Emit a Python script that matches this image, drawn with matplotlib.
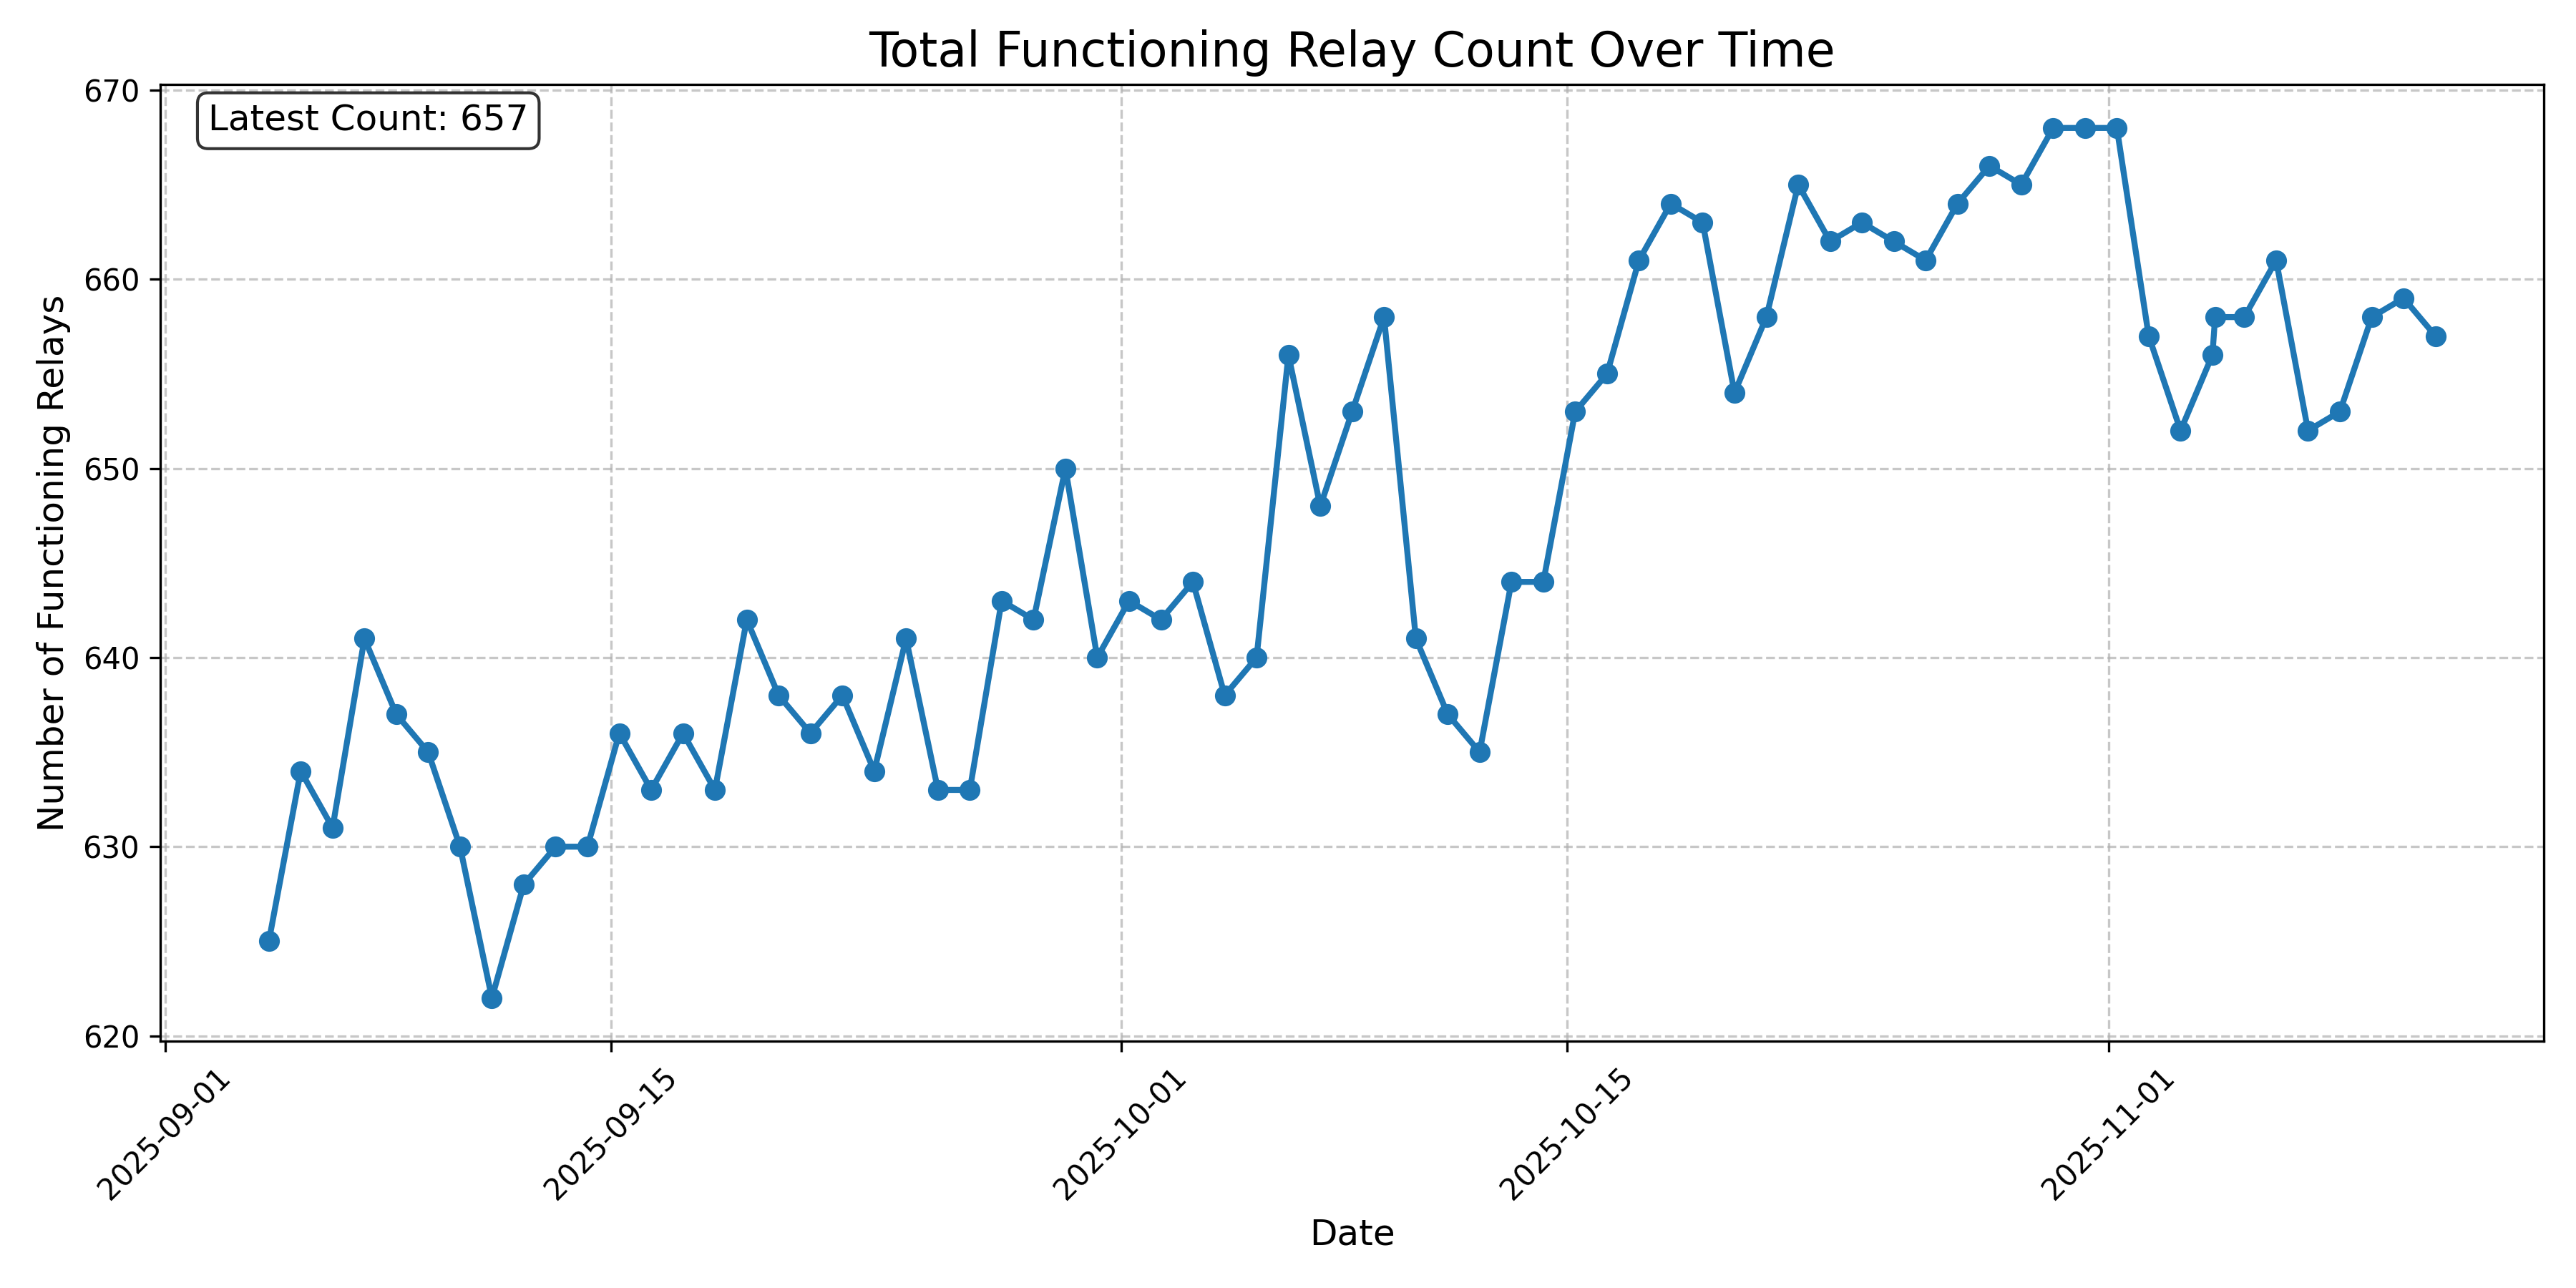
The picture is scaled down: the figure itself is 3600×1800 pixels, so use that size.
import pandas as pd
import matplotlib
matplotlib.use("Agg")
import matplotlib.pyplot as plt

# snapshot times (one per day around 06:00, plus an extra run on 11-04)
dates = [
    "2025-09-04 06:00", "2025-09-05 06:00", "2025-09-06 06:00", "2025-09-07 06:00",
    "2025-09-08 06:00", "2025-09-09 06:00", "2025-09-10 06:00", "2025-09-11 06:00",
    "2025-09-12 06:00", "2025-09-13 06:00", "2025-09-14 06:00", "2025-09-15 06:00",
    "2025-09-16 06:00", "2025-09-17 06:00", "2025-09-18 06:00", "2025-09-19 06:00",
    "2025-09-20 06:00", "2025-09-21 06:00", "2025-09-22 06:00", "2025-09-23 06:00",
    "2025-09-24 06:00", "2025-09-25 06:00", "2025-09-26 06:00", "2025-09-27 06:00",
    "2025-09-28 06:00", "2025-09-29 06:00", "2025-09-30 06:00", "2025-10-01 06:00",
    "2025-10-02 06:00", "2025-10-03 06:00", "2025-10-04 06:00", "2025-10-05 06:00",
    "2025-10-06 06:00", "2025-10-07 06:00", "2025-10-08 06:00", "2025-10-09 06:00",
    "2025-10-10 06:00", "2025-10-11 06:00", "2025-10-12 06:00", "2025-10-13 06:00",
    "2025-10-14 06:00", "2025-10-15 06:00", "2025-10-16 06:00", "2025-10-17 06:00",
    "2025-10-18 06:00", "2025-10-19 06:00", "2025-10-20 06:00", "2025-10-21 06:00",
    "2025-10-22 06:00", "2025-10-23 06:00", "2025-10-24 06:00", "2025-10-25 06:00",
    "2025-10-26 06:00", "2025-10-27 06:00", "2025-10-28 06:00", "2025-10-29 06:00",
    "2025-10-30 06:00", "2025-10-31 06:00", "2025-11-01 06:00", "2025-11-02 06:00",
    "2025-11-03 06:00", "2025-11-04 06:00", "2025-11-04 08:00", "2025-11-05 06:00",
    "2025-11-06 06:00", "2025-11-07 06:00", "2025-11-08 06:00", "2025-11-09 06:00",
    "2025-11-10 06:00", "2025-11-11 06:00",
]

counts = [
    625, 634, 631, 641, 637, 635, 630, 622, 628, 630, 630, 636,
    633, 636, 633, 642, 638, 636, 638, 634, 641, 633, 633, 643,
    642, 650, 640, 643, 642, 644, 638, 640, 656, 648, 653, 658,
    641, 637, 635, 644, 644, 653, 655, 661, 664, 663, 654, 658,
    665, 662, 663, 662, 661, 664, 666, 665, 668, 668, 668, 657,
    652, 656, 658, 658, 661, 652, 653, 658, 659, 657,
]

df = pd.DataFrame({"date": pd.to_datetime(dates), "count": counts})

plt.figure(figsize=(12, 6))
plt.plot(df["date"], df["count"], marker="o", linewidth=2, markersize=6, color="#1f77b4")

plt.title("Total Functioning Relay Count Over Time", fontsize=16)
plt.xlabel("Date", fontsize=12)
plt.ylabel("Number of Functioning Relays", fontsize=12)
plt.grid(True, linestyle="--", alpha=0.7)
plt.xticks(rotation=45)

latest = df["count"].iloc[-1]
plt.text(0.02, 0.98, f"Latest Count: {latest}", transform=plt.gca().transAxes,
         fontsize=12, verticalalignment="top",
         bbox=dict(boxstyle="round", facecolor="white", alpha=0.8))

plt.tight_layout()
plt.savefig("out.png", dpi=300)
